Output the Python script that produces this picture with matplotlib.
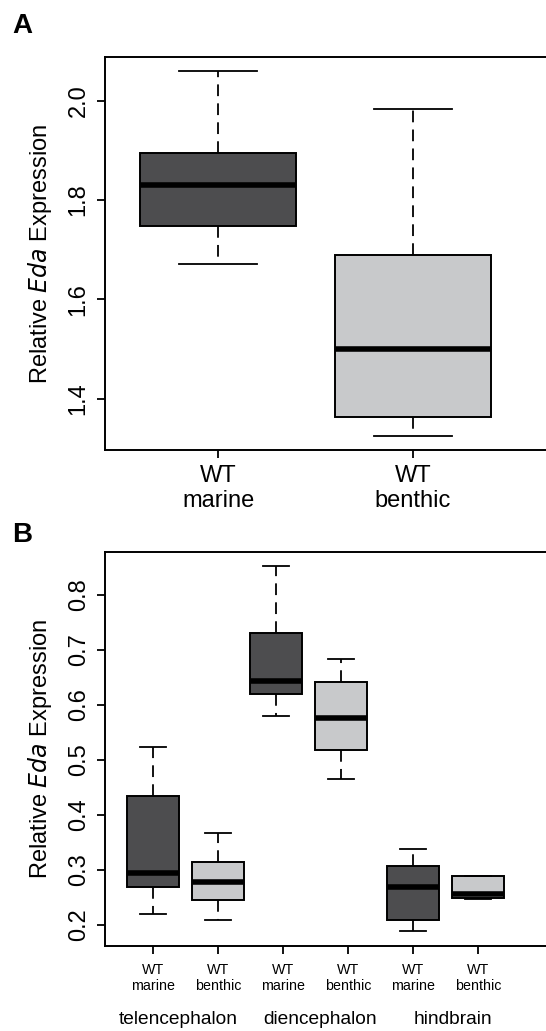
import matplotlib
matplotlib.use("Agg")
import matplotlib.pyplot as plt
import matplotlib.transforms as mtransforms

plt.rcParams['font.family'] = ['Liberation Sans', 'DejaVu Sans']

# ---------------- data ----------------
# Panel A
a_labels = ["WT\nmarine", "WT\nbenthic"]
a_whishi = [2.060, 1.983]
a_q3 = [1.895, 1.689]
a_med = [1.830, 1.500]
a_q1 = [1.748, 1.364]
a_whislo = [1.672, 1.326]
a_yticks = [1.4, 1.6, 1.8, 2.0]

# Panel B
b_labels = ["WT\nmarine", "WT\nbenthic"] * 3
b_regions = ["telencephalon", "diencephalon", "hindbrain"]
b_region_x = [1.38, 3.56, 5.60]
b_positions = [1.0, 2.0, 2.88, 3.88, 4.99, 5.99]
b_whishi = [0.524, 0.367, 0.853, 0.683, 0.338, 0.2897]
b_q3 = [0.435, 0.315, 0.730, 0.641, 0.307, 0.289]
b_med = [0.295, 0.279, 0.644, 0.576, 0.2685, 0.257]
b_q1 = [0.2685, 0.245, 0.620, 0.518, 0.2085, 0.250]
b_whislo = [0.220, 0.209, 0.580, 0.465, 0.1885, 0.247]
b_yticks = [0.2, 0.3, 0.4, 0.5, 0.6, 0.7, 0.8]

dark = "#4d4d4f"
light = "#c8c9cb"

W, H = 546, 1031
fig = plt.figure(figsize=(W / 100, H / 100), dpi=100)


def ax_px(left, top, right, bottom):
    return fig.add_axes([left / W, 1 - bottom / H, (right - left) / W, (bottom - top) / H])


def make_stats(q1, med, q3, lo, hi):
    return [dict(q1=a, med=b, q3=c, whislo=d, whishi=e, fliers=[])
            for a, b, c, d, e in zip(q1, med, q3, lo, hi)]


def draw(ax, stats, positions, colors):
    bp = ax.bxp(stats, positions=positions, widths=0.8, capwidths=0.4,
                patch_artist=True, manage_ticks=False,
                boxprops=dict(linewidth=1.4, edgecolor='black'),
                medianprops=dict(linewidth=4.0, color='black', solid_capstyle='butt'),
                whiskerprops=dict(linewidth=1.3, color='black', linestyle=(0, (6.5, 4.0))),
                capprops=dict(linewidth=1.3, color='black'))
    for patch, c in zip(bp['boxes'], colors):
        patch.set_facecolor(c)
    for s in ax.spines.values():
        s.set_linewidth(1.4)
    ax.spines['right'].set_visible(False)
    ax.tick_params(axis='both', direction='out', length=6, width=1.3)


# ---------------- Panel A ----------------
axA = ax_px(105, 57, 560, 450)
draw(axA, make_stats(a_q1, a_med, a_q3, a_whislo, a_whishi), [1, 2], [dark, light])
axA.set_xlim(0.42, 0.42 + (560 - 105) / 195)
axA.set_ylim(1.297, 2.088)
axA.set_xticks([1, 2])
axA.set_xticklabels(a_labels, fontsize=17, linespacing=1.15)
axA.set_yticks(a_yticks)
axA.set_yticklabels([f"{v:.1f}" for v in a_yticks], rotation=90, va='center', fontsize=17)
axA.tick_params(axis='y', pad=5)
axA.tick_params(axis='x', pad=5)
axA.set_ylabel(r"Relative $\it{Eda}$ Expression", fontsize=17, labelpad=10)
fig.text(12 / W, 1 - 33 / H, "A", fontsize=20, fontweight='bold', ha='left', va='baseline')

# ---------------- Panel B ----------------
axB = ax_px(105, 552, 560, 946)
draw(axB, make_stats(b_q1, b_med, b_q3, b_whislo, b_whishi), b_positions,
     [dark, light] * 3)
axB.set_xlim(0.254, 0.254 + (560 - 105) / 65)
axB.set_ylim(0.162, 0.878)
axB.set_xticks([1, 2, 3, 4, 5, 6])
axB.set_xticklabels(b_labels, fontsize=10.3, linespacing=1.25)
axB.set_yticks(b_yticks)
axB.set_yticklabels([f"{v:.1f}" for v in b_yticks], rotation=90, va='center', fontsize=17)
axB.tick_params(axis='y', pad=5)
axB.tick_params(axis='x', pad=6)
axB.set_ylabel(r"Relative $\it{Eda}$ Expression", fontsize=17, labelpad=10)
trans = mtransforms.blended_transform_factory(axB.transData, fig.transFigure)
for name, x in zip(b_regions, b_region_x):
    axB.text(x, 1 - 1020 / H, name, transform=trans, fontsize=13.8,
             ha='center', va='center', clip_on=False)
fig.text(12 / W, 1 - 542 / H, "B", fontsize=20, fontweight='bold', ha='left', va='baseline')

fig.savefig("out.png", dpi=100)
